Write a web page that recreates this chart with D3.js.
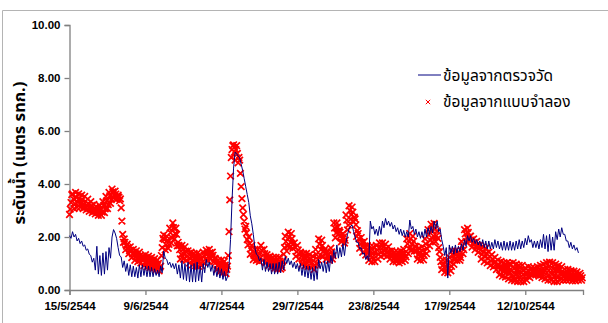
<!DOCTYPE html>
<html>
<head>
<meta charset="utf-8">
<script src="https://cdn.jsdelivr.net/npm/d3@7"></script>
<style>
  html, body { margin: 0; padding: 0; background: #fff; }
  svg { display: block; }
  .thai { font-family: Tahoma, "Noto Sans Thai", "Noto Sans Thai UI", "Loma", "Garuda", "Norasi", "Noto Sans", sans-serif; }
  .tick text { font-family: Arial, "Liberation Sans", sans-serif; font-weight: bold; font-size: 11.5px; fill: #000; }
</style>
</head>
<body>
<svg id="chart" width="608" height="323"></svg>
<script>
// Water level, 15 May - 31 Oct 2544 (2001)
const startDate = new Date(2001, 4, 15);
const endDate = new Date(2001, 9, 31);

const xTickLabels = ["15/5/2544", "9/6/2544", "4/7/2544", "29/7/2544", "23/8/2544", "17/9/2544", "12/10/2544"];
const yTicks = [0, 2, 4, 6, 8, 10];

const seriesNames = ["ข้อมูลจากตรวจวัด", "ข้อมูลจากแบบจำลอง"];
const yTitle = "ระดับน้ำ (เมตร รทก.)";

// Measured levels, every 12 hours from 15/5/2544
const measured = [
  2.05,1.95, 2.2,2.0, 2.1,1.85, 1.95,1.75, 1.85,1.65, 1.7,1.5, 1.55,1.35, 1.3,1.05, 1.2,0.75, 1.65,0.6,
  1.3,0.55, 1.4,0.6, 1.45,0.75, 1.6,1.2, 2.0,2.28, 2.15,1.95, 1.6,1.3, 1.25,0.85, 1.1,0.7, 1.0,0.55,
  0.95,0.5, 0.9,0.5, 0.85,0.45, 0.95,0.5, 0.95,0.55, 0.9,0.5, 0.9,0.5, 0.85,0.5, 0.8,0.55, 0.75,0.5,
  0.9,0.65, 1.47,1.2, 1.15,0.95, 1.05,0.85, 1.0,0.8, 1.0,0.6, 0.95,0.45, 1.1,0.4, 1.0,0.35, 1.05,0.3,
  0.95,0.3, 1.0,0.3, 1.05,0.35, 0.9,0.3, 1.0,0.65, 1.15,0.85, 1.05,0.7, 0.95,0.55, 0.9,0.5, 0.85,0.45,
  0.8,0.4, 0.7,0.35, 0.5,0.9, 1.9,3.4, 4.6,5.2, 5.15,5.05, 5.0,4.75, 4.5,4.2, 3.9,3.6, 3.3,2.8,
  2.5,2.1, 1.6,1.35, 1.3,1.1, 1.2,0.75, 1.15,0.7, 1.05,0.7, 1.0,0.6, 1.0,0.6, 1.0,0.6, 1.05,0.65,
  1.1,0.75, 1.26,1.0, 1.2,0.95, 1.1,0.85, 1.05,0.8, 1.0,0.7, 1.0,0.55, 0.95,0.5, 0.9,0.45, 0.9,0.4,
  0.85,0.35, 0.9,0.4, 1.15,0.8, 1.05,0.7, 1.1,0.65, 1.1,0.7, 1.3,1.0, 1.5,1.2, 1.7,1.2, 1.6,1.25,
  1.75,1.3, 1.8,2.1, 2.3,2.4, 2.45,2.2, 2.0,1.8, 1.8,1.55, 1.6,1.35, 1.4,1.15, 1.3,1.1, 2.6,2.3,
  2.4,2.1, 2.3,2.05, 2.4,2.1, 2.6,2.35, 2.7,2.45, 2.6,2.4, 2.55,2.3, 2.45,2.2, 2.35,2.1, 2.3,2.05,
  2.25,2.0, 2.2,2.0, 2.64,2.3, 2.4,2.1, 2.3,2.0, 2.2,1.95, 2.2,1.95, 2.3,2.0, 2.35,2.1, 2.4,2.15,
  2.6,2.3, 2.6,2.2, 2.3,1.9, 1.65,1.3, 1.6,0.45, 1.7,1.4, 1.65,1.35, 1.7,1.4, 1.65,1.45, 1.75,1.5,
  1.9,1.65, 2.05,1.85, 2.05,1.8, 1.95,1.75, 1.9,1.7, 1.85,1.65, 1.9,1.6, 1.85,1.55, 1.85,1.55, 1.8,1.55,
  1.9,1.6, 1.85,1.55, 1.8,1.5, 1.85,1.5, 1.8,1.5, 1.85,1.5, 1.8,1.5, 1.85,1.55, 1.9,1.55, 1.85,1.6,
  1.95,1.7, 2.05,1.8, 1.9,1.6, 1.85,1.6, 1.85,1.55, 1.9,1.6, 2.1,1.55, 2.05,1.45, 2.1,1.5, 2.0,1.5,
  2.2,1.9, 2.3,2.0, 2.35,2.1, 2.1,1.85, 1.85,1.6, 1.8,1.55, 1.7,1.5, 1.6,1.4
];

// Model levels, every 6 hours from 15/5/2544
const modelled = [
  2.85,3.05,3.3,3.6, 3.63,3.44,3.07,3.26, 3.68,3.49,3.12,3.31, 3.63,3.45,3.12,3.28, 3.58,3.40,3.07,3.23,
  3.53,3.35,3.02,3.18, 3.43,3.26,2.97,3.12, 3.33,3.19,2.92,3.06, 3.23,3.10,2.87,2.99, 3.13,3.02,2.82,2.92,
  3.18,3.05,2.82,2.94, 3.33,3.19,2.92,3.06, 3.53,3.37,3.07,3.22, 3.68,3.55,3.27,3.41, 3.81,3.70,3.47,3.58,
  3.73,3.62,3.42,3.52, 3.58,3.50,3.37,3.44, 3.1,2.6,2.1,1.8, 1.93,1.80,1.52,1.66, 1.73,1.61,1.37,1.49,
  1.63,1.50,1.22,1.36, 1.53,1.40,1.12,1.26, 1.48,1.35,1.07,1.21, 1.43,1.30,1.02,1.16, 1.28,1.17,0.92,1.04,
  1.33,1.19,0.87,1.03, 1.28,1.15,0.85,1.00, 1.23,1.10,0.82,0.96, 1.18,1.05,0.77,0.91, 1.13,1.00,0.72,0.86,
  0.9,1.3,1.6,1.95, 2.08,1.91,1.52,1.71, 2.03,1.88,1.57,1.72, 2.33,2.16,1.77,1.96, 2.53,2.35,1.92,2.13,
  2.33,2.1,1.67,1.8, 1.68,1.52,1.17,1.34, 1.68,1.52,1.17,1.34, 1.63,1.47,1.12,1.29, 1.48,1.34,1.02,1.18,
  1.43,1.28,0.95,1.11, 1.38,1.24,0.92,1.08, 1.38,1.23,0.89,1.06, 1.33,1.20,0.92,1.06, 1.43,1.30,1.02,1.16,
  1.50,1.38,1.12,1.25, 1.53,1.41,1.17,1.29, 1.43,1.31,1.07,1.19, 1.18,1.05,0.77,0.91, 1.13,0.99,0.69,0.84,
  1.13,0.98,0.65,0.81, 1.08,0.94,0.62,0.78, 0.9,1.3,2.2,3.4, 4.3,5.0,5.3,5.45, 5.48,5.2,4.9,5.3,
  5.45,5.15,4.8,5.0, 4.9,4.4,3.9,3.45, 3.1,2.85,2.6,2.3, 2.4,2.15,1.9,1.7, 2.0,1.75,1.35,1.55,
  1.68,1.45,1.15,1.3, 1.53,1.39,1.12,1.25, 1.53,1.38,1.07,1.22, 1.68,1.50,1.12,1.31, 1.53,1.37,1.02,1.19,
  1.33,1.20,0.92,1.06, 1.28,1.15,0.87,1.01, 1.23,1.10,0.82,0.96, 1.23,1.09,0.79,0.94, 1.23,1.09,0.79,0.94,
  0.85,1.1,1.35,1.6, 2.03,1.83,1.47,1.65, 2.18,1.99,1.62,1.80, 2.13,1.94,1.57,1.75, 1.78,1.61,1.27,1.44,
  1.68,1.51,1.17,1.34, 1.43,1.28,0.97,1.12, 1.38,1.23,0.92,1.07, 1.38,1.23,0.89,1.06, 1.33,1.18,0.87,1.02,
  1.28,1.11,0.77,0.94, 1.53,1.34,0.97,1.15, 1.93,1.73,1.32,1.52, 1.88,1.68,1.27,1.47, 1.53,1.40,1.17,1.28,
  1.48,1.35,1.12,1.23, 1.58,1.44,1.17,1.30, 2.53,2.34,1.97,2.15, 2.53,2.38,2.12,2.25, 2.18,2.05,1.82,1.93,
  2.13,2.00,1.77,1.88, 2.83,2.64,2.27,2.45, 3.18,3.00,2.67,2.84, 3.13,2.94,2.57,2.75, 2.68,2.46,2.02,2.24,
  2.13,1.94,1.57,1.75, 1.98,1.79,1.42,1.60, 1.83,1.66,1.32,1.49, 1.68,1.49,1.12,1.30, 1.63,1.44,1.07,1.25,
  1.63,1.44,1.07,1.25, 1.68,1.51,1.17,1.34, 1.78,1.61,1.27,1.44, 1.78,1.62,1.32,1.47, 1.73,1.57,1.27,1.42,
  1.63,1.47,1.17,1.32, 1.48,1.34,1.07,1.20, 1.43,1.31,1.07,1.19, 1.43,1.30,1.02,1.16, 1.48,1.34,1.07,1.20,
  1.53,1.39,1.12,1.25, 1.93,1.74,1.37,1.55, 2.13,1.93,1.52,1.72, 2.03,1.84,1.47,1.65, 1.63,1.47,1.17,1.32,
  1.58,1.42,1.12,1.27, 1.63,1.47,1.14,1.30, 1.93,1.74,1.37,1.55, 2.28,2.08,1.67,1.87, 2.48,2.26,1.82,2.04,
  2.51,2.29,1.82,2.05, 2.23,1.95,1.6,1.45, 1.23,1.07,0.77,0.92, 1.13,0.97,0.67,0.82, 1.13,0.96,0.65,0.80,
  1.23,1.06,0.72,0.89, 1.48,1.31,0.97,1.14, 1.48,1.35,1.12,1.24, 1.43,1.31,1.12,1.22, 1.83,1.67,1.37,1.52,
  2.28,2.12,1.82,1.97, 2.33,2.17,1.87,2.02, 2.03,1.89,1.62,1.76, 1.93,1.79,1.52,1.66, 1.83,1.69,1.42,1.56,
  1.68,1.51,1.17,1.34, 1.63,1.44,1.07,1.25, 1.58,1.39,1.02,1.20, 1.43,1.26,0.92,1.09, 1.33,1.17,0.87,1.02,
  1.23,1.07,0.77,0.92, 1.13,0.94,0.57,0.75, 1.08,0.89,0.52,0.70, 1.03,0.85,0.49,0.67, 1.03,0.82,0.42,0.62,
  1.00,0.79,0.37,0.58, 1.03,0.80,0.35,0.57, 0.98,0.76,0.32,0.54, 0.93,0.73,0.32,0.52, 0.93,0.73,0.32,0.52,
  0.83,0.67,0.37,0.52, 0.88,0.70,0.47,0.58, 0.83,0.71,0.57,0.64, 0.83,0.71,0.57,0.64, 0.88,0.73,0.52,0.62,
  0.93,0.75,0.47,0.61, 0.98,0.77,0.42,0.60, 1.03,0.80,0.37,0.58, 1.05,0.81,0.37,0.59, 1.03,0.79,0.32,0.56,
  0.98,0.76,0.32,0.54, 0.93,0.74,0.37,0.56, 0.88,0.70,0.37,0.54, 0.78,0.64,0.37,0.50, 0.78,0.64,0.37,0.50,
  0.73,0.60,0.35,0.47, 0.71,0.59,0.35,0.47, 0.68,0.57,0.37,0.48, 0.63,0.54,0.37,0.46
];

const HOUR = 3600 * 1000;
const measuredPts = measured.map((v, i) => ({ t: new Date(+startDate + i * 12 * HOUR), v }));
const modelPts = modelled.map((v, i) => ({ t: new Date(+startDate + i * 6 * HOUR), v }));

// dd/mm/yyyy (Buddhist era) -> Date
const parseThaiDate = s => {
  const [d, m, y] = s.split("/").map(Number);
  return new Date(y - 543, m - 1, d);
};
const xTickDates = xTickLabels.map(parseThaiDate);

const svg = d3.select("#chart");
const x = d3.scaleTime().domain([startDate, endDate]).range([69.5, 583]);
const y = d3.scaleLinear().domain([0, 10]).range([290, 25]);

// outer frame
svg.append("path")
  .attr("d", "M2.5,323 V10.5 H608")
  .attr("fill", "none").attr("stroke", "#b4b4b4").attr("stroke-width", 1);

// axes
const axisColor = "#808080";
const gx = svg.append("g").attr("transform", "translate(0,290)")
  .call(d3.axisBottom(x).tickValues(xTickDates)
    .tickFormat((d, i) => xTickLabels[i]).tickSizeOuter(0).tickSize(5).tickPadding(7));
const gy = svg.append("g").attr("transform", "translate(69.5,0)")
  .call(d3.axisLeft(y).tickValues(yTicks).tickFormat(d3.format(".2f"))
    .tickSizeOuter(0).tickSize(5).tickPadding(4));
[gx, gy].forEach(g => {
  g.select(".domain").attr("stroke", axisColor).attr("stroke-width", 1.3);
  g.selectAll(".tick line").attr("stroke", axisColor).attr("stroke-width", 1.3);
});

// model: red x markers
const cross = (cx, cy, r) => `M${cx - r},${cy - r}L${cx + r},${cy + r}M${cx - r},${cy + r}L${cx + r},${cy - r}`;
svg.append("path")
  .attr("d", modelPts.map(p => cross(x(p.t), y(p.v), 3.3)).join(""))
  .attr("fill", "none").attr("stroke", "#ff0000").attr("stroke-width", 1.7);

// measured: navy line
svg.append("path")
  .datum(measuredPts)
  .attr("d", d3.line().x(p => x(p.t)).y(p => y(p.v)))
  .attr("fill", "none").attr("stroke", "#000080").attr("stroke-width", 1);

// y-axis title
svg.append("text")
  .attr("class", "thai")
  .attr("transform", "translate(25,153) rotate(-90)")
  .attr("text-anchor", "middle")
  .attr("font-size", 16.5).attr("font-weight", "bold")
  .text(yTitle);

// legend
const lg = svg.append("g");
lg.append("line").attr("x1", 418).attr("x2", 441).attr("y1", 75).attr("y2", 75)
  .attr("stroke", "#000080").attr("stroke-width", 1);
lg.append("text").attr("class", "thai").attr("x", 443).attr("y", 81)
  .attr("font-size", 15.5).text(seriesNames[0]);
lg.append("path").attr("d", cross(428, 102, 2.2))
  .attr("stroke", "#ff0000").attr("stroke-width", 1);
lg.append("text").attr("class", "thai").attr("x", 443).attr("y", 107)
  .attr("font-size", 15.5).text(seriesNames[1]);
</script>
</body>
</html>
